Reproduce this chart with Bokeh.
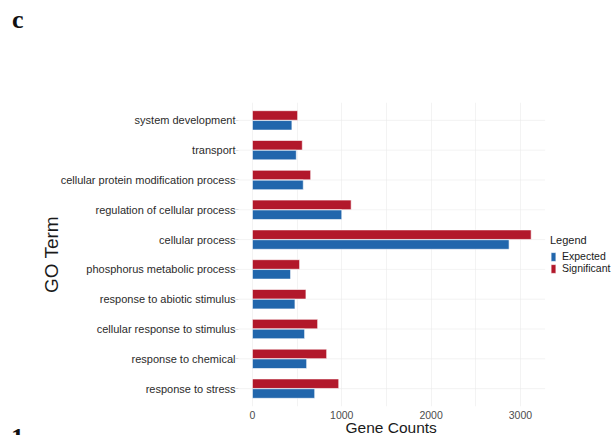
from bokeh.plotting import figure
from bokeh.layouts import column
from bokeh.models import (FactorRange, Range1d, FixedTicker, Legend, LegendItem,
                          ColumnDataSource, Div, Title)
from bokeh.transform import dodge
from bokeh.embed import file_html
from bokeh.resources import INLINE

# GO terms, top to bottom as displayed
terms = [
    "system development",
    "transport",
    "cellular protein modification process",
    "regulation of cellular process",
    "cellular process",
    "phosphorus metabolic process",
    "response to abiotic stimulus",
    "cellular response to stimulus",
    "response to chemical",
    "response to stress",
]
expected = [442, 491, 569, 1000, 2873, 427, 476, 584, 607, 697]
significant = [506, 558, 652, 1105, 3120, 528, 599, 730, 831, 966]
x_ticks = [0, 1000, 2000, 3000]

BLUE = "#2166AC"
RED = "#B2182B"
FONT = "Liberation Sans"

# panel spans the data with 5% padding; the frame continues to the right
# edge so the legend can sit beside the panel
x_hi = max(significant) * 1.05
x_lo = -max(significant) * 0.05
x_frame_end = 4053

src = ColumnDataSource(dict(term=terms, expected=expected, significant=significant,
                            x0=[x_lo] * len(terms), x1=[x_hi] * len(terms)))

y_range = FactorRange(factors=list(reversed(terms)), range_padding=0.1,
                      range_padding_units="absolute")

p = figure(width=614, height=435, y_range=y_range,
           x_range=Range1d(x_lo, x_frame_end),
           output_backend="svg", toolbar_location=None,
           min_border_left=238, min_border_right=0, min_border_top=102,
           min_border_bottom=29)
p.outline_line_color = None
p.background_fill_color = "white"
p.border_fill_alpha = 0

# horizontal guide lines, limited to the panel
p.segment(x0="x0", x1="x1", y0="term", y1="term", source=src,
          line_color="#ebebeb", line_alpha=0.6, line_width=1)

bar_h = 0.32
r_sig = p.hbar(y=dodge("term", 0.165, range=y_range), right="significant", left=0,
               height=bar_h, source=src, fill_color=RED, line_color="white",
               line_alpha=0.6, line_width=1)
r_exp = p.hbar(y=dodge("term", -0.165, range=y_range), right="expected", left=0,
               height=bar_h, source=src, fill_color=BLUE, line_color="white",
               line_alpha=0.6, line_width=1)

# x axis
p.xaxis.ticker = FixedTicker(ticks=x_ticks, minor_ticks=[500, 1500, 2500])
p.xaxis.axis_line_color = None
p.xaxis.major_tick_line_color = None
p.xaxis.minor_tick_line_color = None
p.xaxis.major_tick_out = 0
p.xaxis.minor_tick_out = 0
p.xaxis.major_label_standoff = 4
p.xaxis.major_label_text_font = FONT
p.xaxis.major_label_text_font_size = "10.5px"
p.xaxis.major_label_text_color = "#4d4d4d"

x_title = Title(text="Gene Counts", align="left", offset=107, standoff=-9,
                text_font=FONT, text_font_size="15.5px", text_font_style="normal",
                text_color="#1a1a1a")
p.add_layout(x_title, "below")

# y axis
p.yaxis.axis_line_color = None
p.yaxis.major_tick_line_color = "#dddddd"
p.yaxis.minor_tick_line_color = None
p.yaxis.major_tick_out = 3
p.yaxis.major_tick_in = 0
p.yaxis.major_label_standoff = 0
p.yaxis.major_label_text_font = FONT
p.yaxis.major_label_text_font_size = "11px"
p.yaxis.major_label_text_color = "#2b2b2b"
p.yaxis.axis_label = "GO Term"
p.yaxis.axis_label_text_font = FONT
p.yaxis.axis_label_text_font_size = "19px"
p.yaxis.axis_label_text_font_style = "normal"
p.yaxis.axis_label_text_color = "#1a1a1a"
p.yaxis.axis_label_standoff = -4

# grid
p.xgrid.grid_line_color = "#ebebeb"
p.xgrid.grid_line_alpha = 0.6
p.xgrid.minor_grid_line_color = "#ebebeb"
p.xgrid.minor_grid_line_alpha = 0.6
p.ygrid.grid_line_color = None

# legend beside the panel
legend = Legend(items=[LegendItem(label="Expected", renderers=[r_exp]),
                       LegendItem(label="Significant", renderers=[r_sig])],
                location=(312, 132), title="Legend",
                title_text_font=FONT, title_text_font_size="11px",
                title_text_font_style="normal", title_text_color="#1a1a1a",
                title_standoff=4,
                label_text_font=FONT, label_text_font_size="10.5px",
                label_text_color="#1a1a1a",
                glyph_width=6, glyph_height=11, label_height=11,
                label_standoff=6, spacing=0, padding=0, margin=0,
                border_line_color=None, background_fill_alpha=0)
p.add_layout(legend, "center")

# panel letters
letter_style = {"position": "absolute", "font-family": "Liberation Serif",
                "font-weight": "bold", "font-size": "26px", "color": "#111111",
                "line-height": "26px"}
tag_c = Div(text="c", width=24, height=34,
            styles=dict(letter_style, left="7px", top="2px"))
tag_1 = Div(text="1", width=20, height=15,
            styles=dict(letter_style, left="6px", top="420px", overflow="hidden"))

page = column(p, tag_c, tag_1)
open("out.html", "w").write(file_html(page, INLINE))
